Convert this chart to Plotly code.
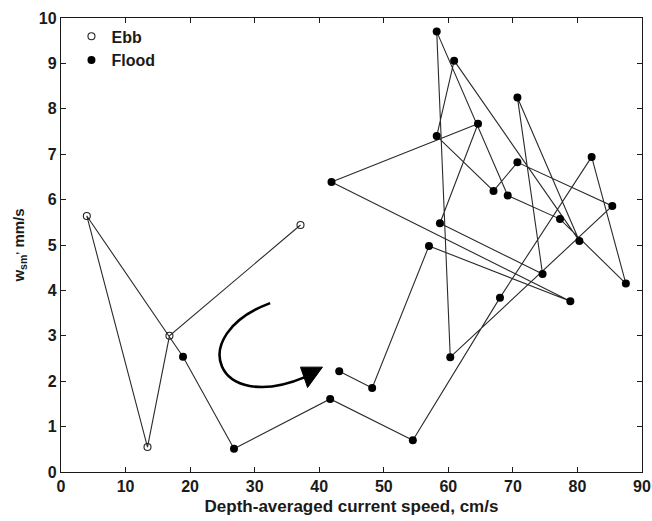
import plotly.graph_objects as go

# ---- data ----
ebb_x = [37.1, 16.8, 13.4, 4.0]
ebb_y = [5.44, 3.00, 0.55, 5.64]

flood_x = [18.9, 26.8, 41.7, 54.5, 68.0, 82.2, 87.5, 77.3, 69.2, 58.2, 60.3, 85.4, 70.7,
           67.0, 58.2, 60.9, 80.3, 70.7, 74.6, 58.7, 64.6, 41.9, 78.9, 57.0, 48.2, 43.1]
flood_y = [2.54, 0.51, 1.61, 0.70, 3.84, 6.94, 4.15, 5.57, 6.09, 9.70, 2.53, 5.86, 6.82,
           6.19, 7.40, 9.06, 5.09, 8.25, 4.36, 5.48, 7.67, 6.39, 3.76, 4.98, 1.85, 2.22]

x_ticks = [0, 10, 20, 30, 40, 50, 60, 70, 80, 90]
y_ticks = [0, 1, 2, 3, 4, 5, 6, 7, 8, 9, 10]

FONT = "Liberation Sans, Arial, Helvetica, sans-serif"
INK = "#1a1a1a"

fig = go.Figure()

# connecting line (time series through ebb then flood)
fig.add_trace(go.Scatter(x=ebb_x + flood_x, y=ebb_y + flood_y, mode="lines",
                         line=dict(color="#2a2a2a", width=1.1),
                         showlegend=False, hoverinfo="skip"))

fig.add_trace(go.Scatter(x=ebb_x, y=ebb_y, mode="markers", name="Ebb",
                         marker=dict(symbol="circle-open", size=7,
                                     color="#222", line=dict(width=1.1, color="#222"))))
fig.add_trace(go.Scatter(x=flood_x, y=flood_y, mode="markers", name="Flood",
                         marker=dict(symbol="circle", size=8, color="#000")))

# curved direction arrow (annotation)
fig.add_shape(type="path", xref="x", yref="y",
              path="M 32.4,3.72 C 19.2,3.02 23.85,1.26 37.8,2.09",
              line=dict(color="#000", width=2.6))
fig.add_shape(type="path", xref="x", yref="y",
              path="M 37.1,2.31 L 40.5,2.31 L 38.2,1.86 Z",
              fillcolor="#000", line=dict(color="#000", width=1))

axis_common = dict(showline=True, linecolor=INK, linewidth=1.3, mirror="ticks",
                   ticks="inside", ticklen=5, tickwidth=1, tickcolor=INK,
                   showgrid=False, zeroline=False, automargin=False,
                   tickfont=dict(family=FONT, size=16, color=INK, weight="bold"))

fig.update_layout(
    width=652, height=521, autosize=False,
    margin=dict(l=61, r=10, t=18, b=49),
    paper_bgcolor="white", plot_bgcolor="white",
    xaxis=dict(range=[0, 90], tickvals=x_ticks,
               title=dict(text="Depth-averaged current speed, cm/s", standoff=5,
                          font=dict(family=FONT, size=17, color=INK, weight="bold")),
               **axis_common),
    yaxis=dict(range=[0, 10], tickvals=y_ticks,
               title=dict(text="w<sub>sm</sub><sup>,</sup> mm/s", standoff=10,
                          font=dict(family=FONT, size=15, color=INK, weight="bold")),
               **axis_common),
    legend=dict(x=0.018, y=0.997, xanchor="left", yanchor="top",
                bgcolor="rgba(0,0,0,0)", borderwidth=0,
                font=dict(family=FONT, size=16, color=INK, weight="bold")),
)

fig.write_html("out.html")
